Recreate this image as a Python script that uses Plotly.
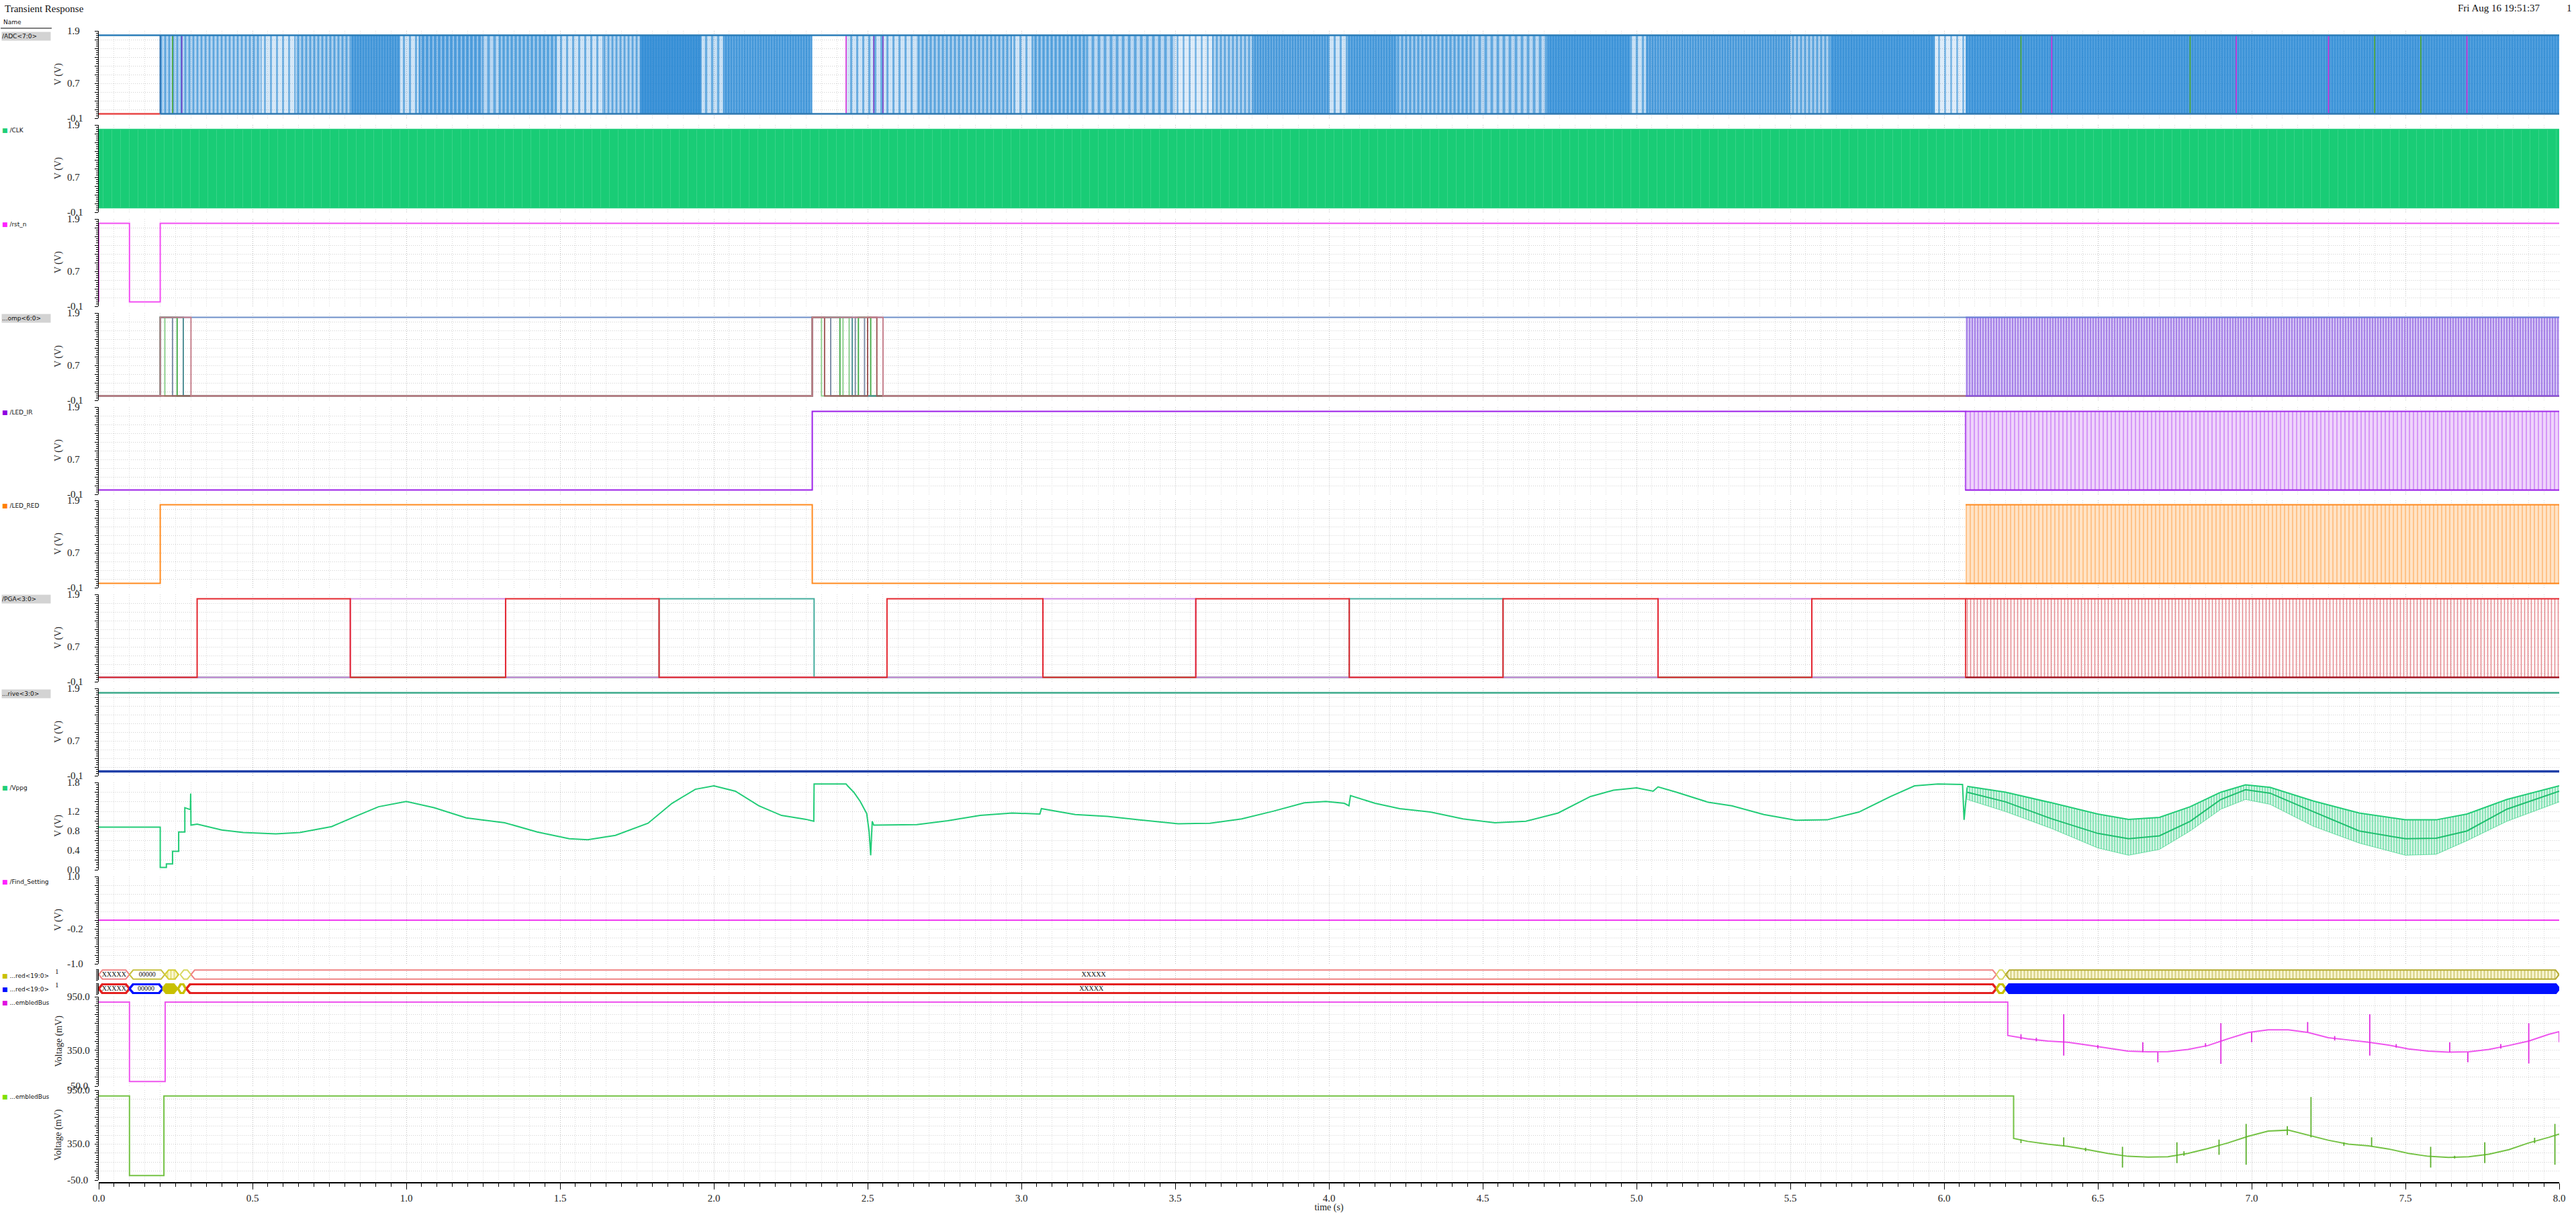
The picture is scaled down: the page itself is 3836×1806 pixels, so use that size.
import plotly.graph_objects as go

# ====================== DATA ======================
T_END = 8.0
HI = 1.8
LO = 0.0
DENSE_START = 6.07

# /ADC<7:0> : activity bands (start, end, relative transition density)
adc_band_start = [0.20, 0.53, 0.64, 0.82, 0.98, 1.04, 1.25, 1.30, 1.49, 1.64,
                  1.76, 1.96, 2.03, 2.43, 2.66, 2.97, 3.04, 3.21, 3.50, 3.62,
                  3.75, 4.00, 4.06, 4.22, 4.47, 4.71, 4.98, 5.03, 5.50, 5.63,
                  5.97, 6.07]
adc_band_end = [0.53, 0.64, 0.82, 0.98, 1.04, 1.25, 1.30, 1.49, 1.64, 1.76,
                1.96, 2.03, 2.32, 2.66, 2.97, 3.04, 3.21, 3.50, 3.62, 3.75,
                4.00, 4.06, 4.22, 4.47, 4.71, 4.98, 5.03, 5.50, 5.63, 5.97,
                6.07, 8.00]
adc_band_density = [0.35, 0.1, 0.4, 0.8, 0.15, 0.6, 0.3, 0.5, 0.15, 0.35,
                    0.95, 0.2, 0.75, 0.15, 0.4, 0.15, 0.5, 0.3, 0.05, 0.35,
                    0.7, 0.15, 0.75, 0.45, 0.3, 0.85, 0.2, 0.7, 0.4, 0.85,
                    0.05, 0.85]
adc_reset_end = 0.20
adc_mark_magenta_t = [2.43, 6.35, 6.95, 7.25, 7.70]
adc_mark_purple_t = [0.27, 2.52, 2.55]
adc_mark_green_t = [0.24, 6.25, 6.80, 7.40, 7.55]

# /CLK : continuous clock over the whole run
clk_t = [0.0, 8.0]

# /rst_n
rst_on = [0.0, 0.2]
rst_off = [0.1, 8.0]

# ...omp<6:0> : high intervals per bit
comp_on = [[0.2], [0.2, 2.32, 2.42], [0.2, 2.32, 2.46], [0.2, 2.32, 2.47],
           [0.2, 2.32], [2.32, 2.50], [0.2, 2.32]]
comp_off = [[8.0], [0.215, 2.35, 2.44], [0.24, 2.38, 2.49], [0.255, 2.41, 2.51],
            [0.275, 2.45], [2.36, 2.53], [0.30, 2.55]]

# /LED_IR, /LED_RED
ledir_on = [2.32]
ledir_off = [6.07]
ledred_on = [0.2]
ledred_off = [2.32]

# /PGA<3:0>
pga_a_on = [0.32, 1.323, 2.563, 3.567, 4.566, 5.57]
pga_a_off = [0.818, 1.822, 3.07, 4.066, 5.07, 6.07]
pga_b_on = [0.818, 3.07, 5.07]
pga_b_off = [1.323, 3.567, 5.57]
pga_c_on = [1.822, 4.066]
pga_c_off = [2.326, 4.566]
pga_d_on = []
pga_d_off = []

# ...rive<3:0>
drive_t = [0.0, 8.0]
drive_hi_v = [1.8, 1.8]
drive_lo_v = [0.0, 0.0]

# /Vppg
vppg_t = [0.0, 0.2, 0.2, 0.22, 0.22, 0.24, 0.24, 0.26, 0.26, 0.28,
          0.28, 0.298, 0.299, 0.30, 0.32, 0.40, 0.47, 0.576, 0.654, 0.757,
          0.834, 0.91, 1.0, 1.09, 1.195, 1.32, 1.426, 1.53, 1.59, 1.68,
          1.786, 1.864, 1.94, 2.0, 2.07, 2.146, 2.22, 2.30, 2.325, 2.326,
          2.43, 2.435, 2.455, 2.476, 2.497, 2.505, 2.51, 2.515, 2.52, 2.557,
          2.66, 2.76, 2.866, 2.97, 3.06, 3.065, 3.175, 3.28, 3.38, 3.51,
          3.613, 3.716, 3.82, 3.92, 3.99, 4.05, 4.065, 4.07, 4.15, 4.23,
          4.33, 4.436, 4.54, 4.64, 4.745, 4.85, 4.925, 5.0, 5.054, 5.07,
          5.13, 5.234, 5.31, 5.414, 5.518, 5.62, 5.723, 5.826, 5.904, 5.98,
          6.06, 6.065, 6.075]
vppg_v = [0.88, 0.88, 0.05, 0.05, 0.12, 0.12, 0.38, 0.38, 0.78, 0.78,
          1.28, 1.24, 1.57, 0.92, 0.94, 0.82, 0.77, 0.74, 0.77, 0.89,
          1.10, 1.30, 1.41, 1.28, 1.07, 0.97, 0.78, 0.64, 0.62, 0.71,
          0.96, 1.37, 1.66, 1.73, 1.62, 1.32, 1.12, 1.04, 1.0, 1.77,
          1.77, 1.73, 1.6, 1.41, 1.16, 0.78, 0.3, 1.0, 0.92, 0.92,
          0.93, 1.01, 1.12, 1.17, 1.15, 1.26, 1.14, 1.10, 1.03, 0.95,
          0.96, 1.05, 1.21, 1.38, 1.41, 1.37, 1.32, 1.53, 1.37, 1.26,
          1.19, 1.05, 0.97, 1.00, 1.17, 1.51, 1.64, 1.69, 1.62, 1.71,
          1.60, 1.39, 1.32, 1.14, 1.02, 1.03, 1.19, 1.51, 1.73, 1.77,
          1.76, 1.03, 1.70]
# /Vppg fast-sampled section: upper envelope, middle trace, lower envelope
vppg_d_t = [6.075, 6.2, 6.35, 6.5, 6.6, 6.7, 6.8, 6.9, 6.98, 7.06,
            7.2, 7.35, 7.5, 7.6, 7.7, 7.83, 8.0]
vppg_d_up = [1.72, 1.6, 1.38, 1.15, 1.04, 1.08, 1.3, 1.6, 1.75, 1.7,
             1.42, 1.17, 1.03, 1.03, 1.15, 1.45, 1.73]
vppg_d_mid = [1.6, 1.4, 1.05, 0.75, 0.64, 0.7, 1.0, 1.45, 1.65, 1.58,
              1.2, 0.8, 0.64, 0.65, 0.8, 1.25, 1.62]
vppg_d_low = [1.45, 1.2, 0.85, 0.45, 0.3, 0.42, 0.8, 1.25, 1.45, 1.35,
              0.9, 0.55, 0.3, 0.32, 0.6, 1.0, 1.4]

# /Find_Setting
find_t = [0.0, 8.0]
find_v = [0.0, 0.0]

# bus rows ...red<19:0>
bus1_start = [0.0, 0.1, 0.215, 0.265, 0.3, 6.17, 6.2]
bus1_end = [0.1, 0.215, 0.26, 0.3, 6.17, 6.2, 8.0]
bus1_text = ['XXXXX', '00000', '', '', 'XXXXX', '', '']
bus2_start = [0.0, 0.1, 0.208, 0.258, 0.285, 6.17, 6.2]
bus2_end = [0.1, 0.208, 0.255, 0.283, 6.17, 6.2, 8.0]
bus2_text = ['XXXXX', '00000', '', '', 'XXXXX', '', '']

# ...embledBus (magenta), mV
emb1_t = [0.0, 0.1, 0.1, 0.216, 0.216, 6.207, 6.207, 6.272, 6.337, 6.402,
          6.467, 6.532, 6.598, 6.663, 6.728, 6.793, 6.858, 6.923, 6.989, 7.054,
          7.119, 7.184, 7.249, 7.315, 7.38, 7.445, 7.51, 7.575, 7.64, 7.706,
          7.771, 7.836, 7.901, 7.966, 8.0]
emb1_v = [890, 890, 0, 0, 890, 890, 516, 479, 454, 441,
          409, 374, 341, 334, 336, 359, 404, 479, 549, 579,
          579, 549, 491, 466, 441, 409, 366, 341, 329, 334,
          359, 404, 454, 529, 559]
emb1_spike_t = [6.25, 6.30, 6.389, 6.50, 6.646, 6.695, 6.85, 6.90, 7.0, 7.182,
                7.27, 7.384, 7.47, 7.644, 7.703, 7.81, 7.901, 8.0]
emb1_spike_lo = [470, 450, 291, 370, 329, 216, 390, 198, 441, 554,
                 460, 291, 380, 329, 216, 370, 203, 441]
emb1_spike_hi = [530, 490, 755, 410, 441, 329, 430, 654, 549, 667,
                 510, 755, 420, 441, 329, 420, 654, 559]

# ...embledBus (green), mV
emb2_t = [0.0, 0.1, 0.1, 0.212, 0.212, 6.226, 6.226, 6.272, 6.337, 6.402,
          6.467, 6.532, 6.598, 6.663, 6.728, 6.793, 6.858, 6.923, 6.989, 7.054,
          7.119, 7.184, 7.249, 7.315, 7.38, 7.445, 7.51, 7.575, 7.64, 7.706,
          7.771, 7.836, 7.901, 7.966, 8.0]
emb2_v = [885, 885, 0, 0, 885, 885, 413, 380, 350, 325,
          288, 246, 214, 206, 209, 246, 301, 363, 437, 495,
          505, 450, 393, 350, 330, 296, 246, 214, 201, 209,
          238, 288, 363, 425, 462]
emb2_spike_t = [6.25, 6.389, 6.46, 6.58, 6.757, 6.78, 6.894, 6.982, 7.116, 7.193,
                7.30, 7.39, 7.582, 7.66, 7.758, 7.92, 7.986]
emb2_spike_lo = [360, 325, 270, 89, 139, 220, 231, 121, 450, 425,
                 330, 325, 89, 190, 139, 360, 121]
emb2_spike_hi = [400, 425, 310, 320, 370, 270, 400, 574, 549, 873,
                 370, 425, 320, 220, 370, 420, 574]

# axis tick labels
digital_tick_vals = [1.9, 0.7, -0.1]
digital_tick_text = ['1.9', '0.7', '-0.1']
vppg_tick_vals = [1.8, 1.2, 0.8, 0.4, 0.0]
vppg_tick_text = ['1.8', '1.2', '0.8', '0.4', '0.0']
find_tick_vals = [1.0, -0.2, -1.0]
find_tick_text = ['1.0', '-0.2', '-1.0']
mv_tick_vals = [950, 350, -50]
mv_tick_text = ['950.0', '350.0', '-50.0']

signal_names = ['/ADC<7:0>', '/CLK', '/rst_n', '...omp<6:0>', '/LED_IR', '/LED_RED',
                '/PGA<3:0>', '...rive<3:0>', '/Vppg', '/Find_Setting',
                '...red<19:0>', '...red<19:0>', '...embledBus', '...embledBus']

# ====================== LAYOUT / STYLE ======================
W, H = 3836, 1806
PL, PRX, PT, PB = 147, 3811, 46, 1761
panel_top = [46, 186, 326, 466, 606, 745, 885, 1025, 1165, 1305, 1443, 1464, 1484, 1623]
panel_bot = [176, 316, 456, 596, 736, 875, 1015, 1155, 1295, 1435, 1459, 1480, 1617, 1757]
label_py = [54, 194, 334, 474, 614, 753, 892, 1033, 1173, 1313, 1453, 1473, 1493, 1633]
label_box = [True, False, False, True, False, False, True, True, False, False,
             False, False, False, False]
label_col = [None, '#1fcf77', '#ff22ff', None, '#8f00e0', '#ff7f00', None, None,
             '#1fcf77', '#ff22ff', '#c8c000', '#0010ff', '#e010e0', '#80e000']

SERIF = 'Liberation Serif'
SANS = 'DejaVu Sans'
GRID = '#cfcfcf'
DOT = '1px,2px'


def xp(px):
    return (px - PL) / (PRX - PL)


def yp(py):
    return (PB - py) / (PB - PT)


def yid(i):
    return 'y' if i == 0 else f'y{i + 1}'


traces = []


def add(x, y, panel, **kw):
    traces.append(go.Scatter(x=x, y=y, xaxis='x', yaxis=yid(panel),
                             hoverinfo='skip', showlegend=False, **kw))


def step_series(on, off, t_end, lo=LO, hi=HI):
    xs, ys = [0.0], [lo]
    ended_high = False
    for a, b in zip(on, off):
        if b >= t_end:
            xs += [a, a, t_end]
            ys += [lo, hi, hi]
            ended_high = True
        else:
            xs += [a, a, b, b]
            ys += [lo, hi, hi, lo]
    if not ended_high:
        xs.append(t_end)
        ys.append(lo)
    return xs, ys


def rect(t0, t1, lo=LO, hi=HI):
    return [t0, t1, t1, t0, t0], [lo, lo, hi, hi, lo]


def vsegs(ts, los, his):
    xs, ys = [], []
    for t, a, b in zip(ts, los, his):
        xs += [t, t, None]
        ys += [a, b, None]
    return xs, ys


# ---------- panel 0 : ADC ----------
groups = {}
for s, e, d in zip(adc_band_start, adc_band_end, adc_band_density):
    groups.setdefault(d, []).append((s, e))
for d, segs in groups.items():
    xs, ys = [], []
    for s, e in segs:
        rx, ry = rect(s, e)
        xs += rx + [None]
        ys += ry + [None]
    size = 4 if d >= 0.7 else (6 if d >= 0.35 else 9)
    alpha = round(0.12 + 0.6 * d, 3)
    add(xs, ys, 0, mode='none', fill='toself', fillcolor='rgba(0,0,0,0)',
        fillpattern=dict(shape='|', fgcolor='#0878cc', bgcolor=f'rgba(30,128,212,{alpha})',
                         size=size, solidity=min(0.85, 0.25 + 0.65 * d)))
for ts, col in [(adc_mark_green_t, '#4fa82c'), (adc_mark_purple_t, '#6f35c4'),
                (adc_mark_magenta_t, '#d82ad8')]:
    vx, vy = vsegs(ts, [LO] * len(ts), [HI] * len(ts))
    add(vx, vy, 0, mode='lines', line=dict(color=col, width=1.6))
add([0.0, T_END], [HI, HI], 0, mode='lines', line=dict(color='#2a7db8', width=2.5))
add([0.0, adc_reset_end], [LO, LO], 0, mode='lines', line=dict(color='#e84545', width=2.5))
add([adc_reset_end, T_END], [LO, LO], 0, mode='lines', line=dict(color='#2f78b0', width=2.5))
add([adc_reset_end, adc_reset_end], [LO, HI], 0, mode='lines', line=dict(color='#2a6fb0', width=2))

# ---------- panel 1 : CLK ----------
cx, cy = rect(clk_t[0], clk_t[1])
add(cx, cy, 1, mode='lines', line=dict(color='#22cf7c', width=1.5), fill='toself',
    fillcolor='#1ccd78',
    fillpattern=dict(shape='|', fgcolor='#5fdc9e', bgcolor='#19cc76', size=13, solidity=0.07))

# ---------- panel 2 : rst_n ----------
rx, ry = step_series(rst_on, rst_off, T_END)
add(rx, ry, 2, mode='lines', line=dict(color='#f24ef2', width=2))

# ---------- panel 3 : comp ----------
comp_colors = ['#6f8fc9', '#8fd08f', '#7f8fa8', '#4caf50', '#4f8f95', '#a05a5a', '#c57f8c']
for on, off, col in zip(comp_on, comp_off, comp_colors):
    sx, sy = step_series(on, off, T_END)
    add(sx, sy, 3, mode='lines', line=dict(color=col, width=2))


def dense(panel, fg, bg, size, sol, top_col, bot_col):
    dx, dy = rect(DENSE_START, T_END)
    add(dx, dy, panel, mode='none', fill='toself', fillcolor='rgba(0,0,0,0)',
        fillpattern=dict(shape='|', fgcolor=fg, bgcolor=bg, size=size, solidity=sol))
    add([DENSE_START, T_END], [HI, HI], panel, mode='lines', line=dict(color=top_col, width=2))
    add([DENSE_START, T_END], [LO, LO], panel, mode='lines', line=dict(color=bot_col, width=2))


dense(3, '#7a40dc', 'rgba(180,150,238,0.55)', 4, 0.5, '#6f7fd9', '#8a52e4')

# ---------- panel 4 : LED_IR ----------
sx, sy = step_series(ledir_on, ledir_off, T_END)
add(sx, sy, 4, mode='lines', line=dict(color='#9b1fe8', width=2))
dense(4, '#b64ef2', '#efd4fb', 6, 0.3, '#a12cea', '#a12cea')

# ---------- panel 5 : LED_RED ----------
sx, sy = step_series(ledred_on, ledred_off, T_END)
add(sx, sy, 5, mode='lines', line=dict(color='#ff8a1f', width=2))
dense(5, '#ff9a3c', '#ffe3c6', 6, 0.3, '#ff8a1f', '#ff8a1f')

# ---------- panel 6 : PGA ----------
for on, off, col in [(pga_d_on, pga_d_off, '#a8a04a'), (pga_c_on, pga_c_off, '#45ad9e'),
                     (pga_b_on, pga_b_off, '#d48ae4'), (pga_a_on, pga_a_off, '#e4262e')]:
    sx, sy = step_series(on, off, T_END)
    add(sx, sy, 6, mode='lines', line=dict(color=col, width=2))
dense(6, '#cc1c28', 'rgba(255,235,235,0.2)', 5, 0.3, '#e4262e', '#a01c24')

# ---------- panel 7 : drive ----------
add(drive_t, drive_hi_v, 7, mode='lines', line=dict(color='#3aa98a', width=2.5))
add(drive_t, drive_lo_v, 7, mode='lines', line=dict(color='#1f3fa8', width=3.5))

# ---------- panel 8 : Vppg ----------
add(vppg_t, vppg_v, 8, mode='lines', line=dict(color='#22cc77', width=2))
add(vppg_d_t, vppg_d_low, 8, mode='lines', line=dict(color='rgba(34,204,119,0.6)', width=1))
add(vppg_d_t, vppg_d_up, 8, mode='lines', line=dict(color='#22cc77', width=2), fill='tonexty',
    fillcolor='rgba(0,0,0,0)',
    fillpattern=dict(shape='|', fgcolor='#2fd082', bgcolor='rgba(34,204,119,0.18)', size=4, solidity=0.45))
add(vppg_d_t, vppg_d_mid, 8, mode='lines', line=dict(color='#1fbf6e', width=2))

# ---------- panel 9 : Find_Setting ----------
add(find_t, find_v, 9, mode='lines', line=dict(color='#f03cf0', width=2))


# ---------- panels 10/11 : buses ----------
def hexagon(s, e):
    n = min(0.012, (e - s) / 3.0)
    return [s, s + n, e - n, e, e - n, s + n, s], [0.5, 0.92, 0.92, 0.5, 0.08, 0.08, 0.5]


bus1_color = ['#f08484', '#c8c040', '#d4cc30', '#d8d860', '#f08484', '#d8d860', '#b4aa30']
bus1_style = ['outline', 'outline', 'pattern', 'outline', 'outline', 'outline', 'pattern']
bus2_color = ['#e42020', '#0010ff', '#c8c000', '#c8c000', '#e42020', '#c8c000', '#0010ff']
bus2_style = ['outline', 'outline', 'solid', 'outline', 'outline', 'outline', 'solid']

for panel, starts, ends, cols, styles, width in [
        (10, bus1_start, bus1_end, bus1_color, bus1_style, 2.0),
        (11, bus2_start, bus2_end, bus2_color, bus2_style, 3.5)]:
    for s, e, col, st in zip(starts, ends, cols, styles):
        hx, hy = hexagon(s, e)
        if st == 'outline':
            add(hx, hy, panel, mode='lines', line=dict(color=col, width=width))
        elif st == 'solid':
            add(hx, hy, panel, mode='lines', line=dict(color=col, width=width),
                fill='toself', fillcolor=col)
        else:
            add(hx, hy, panel, mode='lines', line=dict(color=col, width=2),
                fill='toself', fillcolor='rgba(0,0,0,0)',
                fillpattern=dict(shape='|', fgcolor=col, bgcolor='#fbf8d8', size=5, solidity=0.45))

for panel, starts, ends, texts in [(10, bus1_start, bus1_end, bus1_text),
                                   (11, bus2_start, bus2_end, bus2_text)]:
    mx = [(s + e) / 2 for s, e, t in zip(starts, ends, texts) if t]
    tt = [t for t in texts if t]
    add(mx, [0.5] * len(mx), panel, mode='text', text=tt, cliponaxis=False,
        textfont=dict(family=SERIF, size=10, color='#111'))

# ---------- panels 12/13 : embledBus ----------
add(emb1_t, emb1_v, 12, mode='lines', line=dict(color='#ee55ee', width=2))
sx, sy = vsegs(emb1_spike_t, emb1_spike_lo, emb1_spike_hi)
add(sx, sy, 12, mode='lines', line=dict(color='#e030e0', width=1.8))
add(emb2_t, emb2_v, 13, mode='lines', line=dict(color='#74c244', width=2))
sx, sy = vsegs(emb2_spike_t, emb2_spike_lo, emb2_spike_hi)
add(sx, sy, 13, mode='lines', line=dict(color='#5cb02c', width=1.8))

fig = go.Figure(data=traces)

# ---------- axes ----------
ranges = [(-0.1, 1.9)] * 8 + [(0.0, 1.8), (-1.0, 1.0), (0, 1), (0, 1), (-50, 950), (-50, 950)]
gsteps = [0.2] * 8 + [0.2, 0.2, 0.5, 0.5, 100, 100]
layout_axes = {}
for i in range(14):
    lo_r, hi_r = ranges[i]
    is_bus = i in (10, 11)
    ax = dict(domain=[yp(panel_bot[i]), yp(panel_top[i])], range=[lo_r, hi_r], anchor='x',
              showline=True, linecolor='black', linewidth=1, mirror=False,
              ticks='outside', ticklen=5 if not is_bus else 3, tickcolor='black',
              tick0=lo_r, dtick=gsteps[i], showticklabels=False,
              showgrid=not is_bus, gridcolor=GRID, griddash=DOT, gridwidth=1,
              zeroline=False, fixedrange=True, automargin=False,
              minor=dict(ticks='outside', ticklen=3, tickcolor='black', tick0=lo_r,
                         dtick=gsteps[i] / 4, showgrid=False))
    layout_axes['yaxis' if i == 0 else f'yaxis{i + 1}'] = ax

annotations = []
# tick labels (left aligned like the reference)
tick_sets = [(digital_tick_vals, digital_tick_text)] * 8 + [
    (vppg_tick_vals, vppg_tick_text), (find_tick_vals, find_tick_text), None, None,
    (mv_tick_vals, mv_tick_text), (mv_tick_vals, mv_tick_text)]
for i, ts in enumerate(tick_sets):
    if ts is None:
        continue
    for v, t in zip(*ts):
        annotations.append(dict(xref='paper', yref=yid(i), x=xp(98), y=v, text=t,
                                xanchor='left', yanchor='middle', showarrow=False,
                                font=dict(family=SERIF, size=15, color='#222')))
# y titles
for i in list(range(10)) + [12, 13]:
    annotations.append(dict(xref='paper', yref='paper', x=xp(87),
                            y=(yp(panel_top[i]) + yp(panel_bot[i])) / 2,
                            text='V (V)' if i < 10 else 'Voltage (mV)', textangle=-90,
                            xanchor='center', yanchor='middle', showarrow=False,
                            font=dict(family=SERIF, size=14, color='#222')))
# bus "1" marks
for py in (1446, 1466):
    annotations.append(dict(xref='paper', yref='paper', x=xp(85), y=yp(py), text='1',
                            showarrow=False, xanchor='center', yanchor='middle',
                            font=dict(family=SERIF, size=11, color='#222')))
# signal names
for name, py, box, col in zip(signal_names, label_py, label_box, label_col):
    txt = name.replace('<', '&lt;').replace('>', '&gt;')
    if box:
        annotations.append(dict(xref='paper', yref='paper', x=xp(2), y=yp(py), text=txt,
                                xanchor='left', yanchor='middle', showarrow=False, align='left',
                                width=72, height=12, bgcolor='#d3d3d3', borderpad=0,
                                font=dict(family=SANS, size=9, color='#111')))
    else:
        annotations.append(dict(xref='paper', yref='paper', x=xp(1), y=yp(py),
                                text=f"<span style='color:{col}'>■</span> {txt}",
                                xanchor='left', yanchor='middle', showarrow=False, align='left',
                                font=dict(family=SANS, size=9, color='#111')))
annotations.append(dict(xref='paper', yref='paper', x=xp(3), y=yp(33), text='Name',
                        xanchor='left', yanchor='middle', showarrow=False,
                        font=dict(family=SANS, size=9, color='#111')))
annotations.append(dict(xref='paper', yref='paper', x=xp(5), y=yp(13), text='Transient Response',
                        xanchor='left', yanchor='middle', showarrow=False,
                        font=dict(family=SERIF, size=15, color='#111')))
annotations.append(dict(xref='paper', yref='paper', x=xp(3658), y=yp(12), text='Fri Aug 16 19:51:37',
                        xanchor='left', yanchor='middle', showarrow=False,
                        font=dict(family=SERIF, size=15, color='#111')))
annotations.append(dict(xref='paper', yref='paper', x=xp(3820), y=yp(12), text='1',
                        xanchor='left', yanchor='middle', showarrow=False,
                        font=dict(family=SERIF, size=15, color='#111')))

shapes = [dict(type='line', xref='paper', yref='paper', x0=xp(1), x1=xp(77), y0=yp(42), y1=yp(42),
               line=dict(color='black', width=1))]

fig.update_layout(
    width=W, height=H,
    margin=dict(l=PL, r=W - PRX, t=PT, b=H - PB, pad=0),
    paper_bgcolor='white', plot_bgcolor='white',
    showlegend=False,
    xaxis=dict(domain=[0, 1], range=[0, T_END], anchor='free', position=0,
               showline=True, linecolor='black', linewidth=1.5,
               ticks='outside', ticklen=9, tickcolor='black', tick0=0, dtick=0.5,
               tickformat='.1f', tickfont=dict(family=SERIF, size=15, color='#222'),
               showgrid=True, gridcolor='#bdbdbd', griddash=DOT, gridwidth=1,
               zeroline=False, fixedrange=True, automargin=False,
               minor=dict(ticks='outside', ticklen=5, tickcolor='black', dtick=0.05,
                          showgrid=True, gridcolor='#d9d9d9', griddash=DOT, gridwidth=1),
               title=dict(text='time (s)', standoff=1, font=dict(family=SERIF, size=14, color='#222'))),
    annotations=annotations,
    shapes=shapes,
    **layout_axes,
)

fig.write_html("out.html", post_script="document.body.style.margin='0';")
